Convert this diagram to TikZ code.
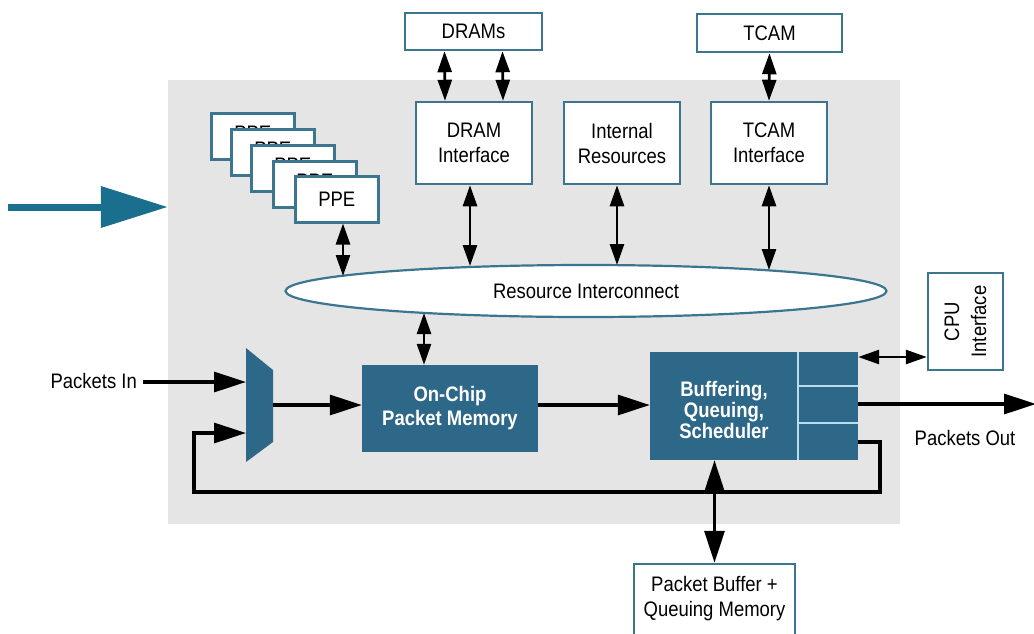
\documentclass[tikz,border=0pt]{standalone}
\usepackage{fontspec}
\setmainfont{Liberation Sans}[FakeStretch=0.88]
\usetikzlibrary{arrows.meta,shapes.geometric,calc}
\definecolor{teal1}{HTML}{2E6888}
\definecolor{bord}{HTML}{3C7590}
\definecolor{bgc}{HTML}{E5E5E5}
\definecolor{bigarr}{HTML}{1A6E8E}
\definecolor{divc}{HTML}{B8DFEE}
\newcommand\dfont{\fontsize{21}{25}\selectfont}
\newcommand\dfontb{\fontsize{21}{24}\selectfont\bfseries}
\newcommand\dfontc{\fontsize{21}{21}\selectfont\bfseries}
\begin{document}
\begin{tikzpicture}[x=1pt,y=-1pt,
  wbox/.style={draw=bord, fill=white, line width=2.5pt, inner sep=0pt, align=center, font=\dfont},
  ppebox/.style={wbox, minimum width=83, minimum height=46, anchor=north west},
  tbox/.style={fill=teal1, inner sep=0pt, text=white, align=center, font=\dfontb},
  lbl/.style={inner sep=0pt, font=\dfont, align=center},
  bigar/.style={line width=3.2pt, -{Triangle[length=32pt,width=20pt]}},
  dbig/.style={line width=3.2pt, {Triangle[length=32pt,width=20pt]}-{Triangle[length=32pt,width=20pt]}},
  dsmall/.style={line width=2.7pt, {Triangle[length=21pt,width=14pt]}-{Triangle[length=21pt,width=14pt]}},
]
\useasboundingbox (0,0) rectangle (1034,633);
% background
\node[fill=bgc, inner sep=0pt, minimum width=732, minimum height=444] (bg) at (534,302) {};
% big teal arrow
\coordinate (bigstart) at (8,207);
\draw[bigarr, line width=7pt, -{Triangle[length=67pt,width=40pt]}] (bigstart) -- (bg.west |- bigstart);
% top boxes
\node[wbox, minimum width=137, minimum height=37] (drams) at (473.5,31.5) {DRAMs};
\node[wbox, minimum width=145, minimum height=38] (tcam) at (769.5,33) {TCAM};
\node[wbox, minimum width=116, minimum height=82] (dramif) at (474,143) {DRAM\\Interface};
\node[wbox, minimum width=116, minimum height=82] (intres) at (622,143) {Internal\\Resources};
\node[wbox, minimum width=116, minimum height=82] (tcamif) at (769,143) {TCAM\\Interface};
% PPE stack
\node[ppebox, text depth=6.5pt] (ppe1) at (210,112) {PPE};
\node[ppebox, text depth=6.5pt] (ppe2) at (230,128) {PPE};
\node[ppebox, text depth=6.5pt] (ppe3) at (250,144) {PPE};
\node[ppebox, text depth=6.5pt] (ppe4) at (272,160) {PPE};
\node[ppebox] (ppe) at (294,175) {PPE};
% ellipse
\node[ellipse, draw=bord, fill=white, line width=2.2pt, minimum width=601, minimum height=52, inner sep=0pt, font=\dfont] (ri) at (586,291) {Resource Interconnect};
% ellipse contact points
\coordinate (e1) at (343,276);
\coordinate (e2) at (470,266);
\coordinate (e3) at (617,265);
\coordinate (e4) at (769,270);
\coordinate (e6) at (424,313);
% on-chip memory
\node[tbox, minimum width=176, minimum height=87] (ocpm) at (450,408.5) {On-Chip\\Packet Memory};
% buffering
\node[tbox, minimum width=208, minimum height=108] (buf) at (754,406) {};
\node[lbl, text=white, font=\dfontc] (buft) at (724,410) {Buffering,\\Queuing,\\Scheduler};
\draw[divc, line width=1.6pt] (798,352) -- (798,460);
\draw[divc, line width=1.6pt] (798,386) -- (858,386);
\draw[divc, line width=1.6pt] (798,423) -- (858,423);
% mux
\fill[teal1] (246,348) -- (273,370) -- (273,442) -- (246,462) -- cycle;
\coordinate (muxin1) at (246,382);
\coordinate (muxin2) at (246,433);
\coordinate (muxout) at (273,405);
% CPU interface
\node[wbox, minimum width=75, minimum height=97] (cpu) at (965.5,321.5) {};
\node[lbl, rotate=90, font=\fontsize{21}{27}\selectfont] (cput) at (cpu.center) {CPU\\Interface};
% packet buffer
\node[wbox, minimum width=161, minimum height=76] (pbq) at (714.5,602) {};
\node[lbl, font=\fontsize{21}{25}\selectfont] (pbqt) at (714.5,599) {Packet Buffer +\\Queuing Memory};
% labels
\node[lbl, anchor=east] (pin) at (137,381) {Packets In};
\node[lbl] (pout) at (965,438) {Packets Out};
% connectors top
\draw[dsmall] ([xshift=-29pt]drams.south) -- ([xshift=-29pt]dramif.north);
\draw[dsmall] ([xshift=29pt]drams.south) -- ([xshift=29pt]dramif.north);
\draw[dsmall] (tcam.south) -- (tcamif.north);
\draw[dsmall] (dramif.south -| e2) -- (e2);
\draw[dsmall] (intres.south -| e3) -- (e3);
\draw[dsmall] (tcamif.south -| e4) -- (e4);
\draw[dsmall] (ppe.south -| e1) -- (e1);
\draw[dsmall] (e6) -- (ocpm.north -| e6);
% data path
\coordinate (pinend) at (143,382);
\draw[bigar] (pinend) -- (muxin1);
\draw[bigar] (muxout) -- (ocpm.west |- muxout);
\draw[bigar] (ocpm.east |- muxout) -- (buf.west |- muxout);
\coordinate (fb1) at (858,442);
\draw[bigar, line join=miter] (fb1) -- ++(22,0) |- (194,492) |- (muxin2);
\draw[dbig] (buf.south -| pbq.north) -- (pbq.north);
\coordinate (cpuy) at (0,357);
\draw[dsmall] (buf.east |- cpuy) -- (cpu.west |- cpuy);
\coordinate (outend) at (1036,404);
\draw[bigar] (buf.east |- outend) -- (outend);
\end{tikzpicture}
\end{document}
